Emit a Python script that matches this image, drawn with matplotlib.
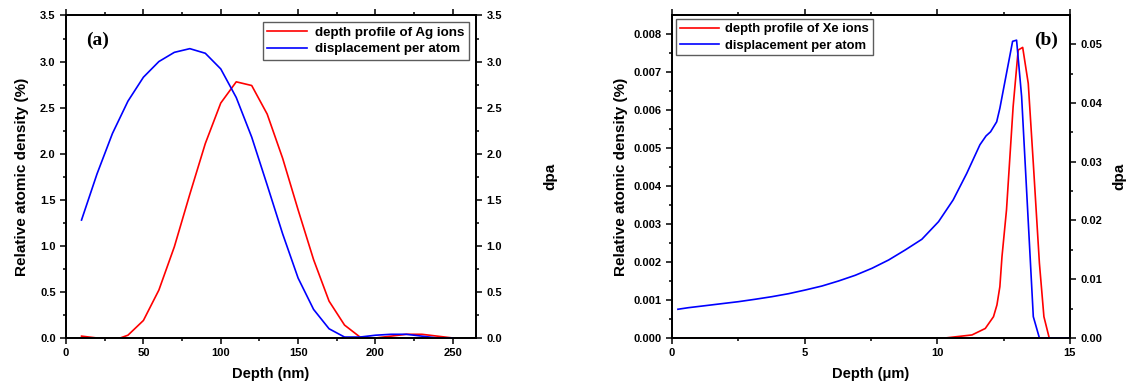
import matplotlib
matplotlib.use("Agg")
import matplotlib.pyplot as plt
from matplotlib.ticker import MultipleLocator

plt.rcParams['font.family'] = ['Liberation Sans', 'DejaVu Sans']
plt.rcParams['font.weight'] = 'bold'

# panel (a): Ag ions, depth in nm
depth_a = [10, 20, 30, 35, 40, 50, 60, 70, 80, 90, 100, 110, 120, 130, 140,
           150, 160, 170, 180, 190, 200, 210, 220, 230, 240, 250]
ag_profile = [0.02, 0.0, 0.0, 0.0, 0.03, 0.19, 0.52, 0.99, 1.56, 2.11, 2.55, 2.78, 2.74,
              2.43, 1.95, 1.39, 0.85, 0.40, 0.14, 0.01, 0.0, 0.02, 0.04, 0.04, 0.02, 0.0]
depth_a_dpa = [10, 20, 30, 40, 50, 60, 70, 80, 90, 100, 110, 120, 130, 140, 150,
               160, 170, 180, 190, 200, 210, 220, 230, 240, 250]
ag_dpa = [1.28, 1.78, 2.22, 2.57, 2.83, 3.00, 3.10, 3.14, 3.09, 2.92, 2.61, 2.18, 1.66,
          1.13, 0.65, 0.31, 0.10, 0.01, 0.01, 0.03, 0.04, 0.04, 0.02, 0.0, 0.0]

# panel (b): Xe ions, depth in um
depth_b_prof = [0.0, 2, 4, 6, 8, 10.3, 11.31, 11.81, 12.12, 12.25, 12.36, 12.44, 12.61,
                12.86, 13.05, 13.22, 13.43, 13.62, 13.85, 14.02, 14.22, 15.0]
xe_profile = [0.0, 0.0, 0.0, 0.0, 0.0, 0.0, 0.00008, 0.00025, 0.00056, 0.00087, 0.00135,
              0.00214, 0.00337, 0.00609, 0.00758, 0.00765, 0.0067, 0.0046, 0.00197,
              0.00056, 0.0, 0.0]
depth_b_dpa = [0.23, 0.63, 1.26, 1.88, 2.51, 3.14, 3.77, 4.4, 5.03, 5.66, 6.28, 6.91, 7.54,
               8.17, 8.8, 9.42, 10.05, 10.6, 11.11, 11.61, 11.84, 12.01, 12.24, 12.36,
               12.49, 12.84, 12.99, 13.18, 13.62, 13.85, 15.0]
xe_dpa = [0.00489, 0.00516, 0.0055, 0.00584, 0.00618, 0.00659, 0.00703, 0.00754, 0.00817,
          0.00885, 0.0097, 0.01067, 0.01186, 0.01328, 0.0150, 0.0168, 0.0198, 0.0235,
          0.0280, 0.0329, 0.0344, 0.0351, 0.0368, 0.0391, 0.0422, 0.0505, 0.0507, 0.0411,
          0.00363, 0.0, 0.0]

fig = plt.figure(figsize=(11.31, 3.92), dpi=100)


def style(ax, ax2):
    for a in (ax, ax2):
        for s in a.spines.values():
            s.set_linewidth(1.3)
        a.tick_params(which='both', labelsize=8, width=1.1)
        a.tick_params(which='major', length=4)
        a.tick_params(which='minor', length=2.5)
    ax.tick_params(axis='x', which='both', top=True, direction='out')
    ax.tick_params(axis='y', which='both', direction='out')
    ax2.tick_params(axis='y', which='both', direction='out')


# ---- (a)
ax = fig.add_axes([0.0584, 0.1378, 0.3625, 0.8227])
ax2 = ax.twinx()
l1, = ax.plot(depth_a, ag_profile, color='red', lw=1.2, label='depth profile of Ag ions')
l2, = ax2.plot(depth_a_dpa, ag_dpa, color='blue', lw=1.2, label='displacement per atom')
ax.set_xlim(0, 265)
ax.set_ylim(0, 3.5)
ax2.set_ylim(0, 3.5)
ax.xaxis.set_major_locator(MultipleLocator(50))
ax.xaxis.set_minor_locator(MultipleLocator(25))
for a in (ax, ax2):
    a.yaxis.set_major_locator(MultipleLocator(0.5))
    a.yaxis.set_minor_locator(MultipleLocator(0.25))
style(ax, ax2)
ax.set_xlabel('Depth (nm)', fontsize=10.5, fontweight='bold', labelpad=6)
ax.set_ylabel('Relative atomic density (%)', fontsize=11, fontweight='bold', labelpad=8)
ax2.set_ylabel('dpa', fontsize=11, fontweight='bold', labelpad=30)
leg = ax.legend(handles=[l1, l2], loc='upper right', fontsize=9.6, fancybox=False,
                edgecolor='#333333', borderpad=0.35, handlelength=3, labelspacing=0.3,
                borderaxespad=0.5, handletextpad=0.6)
leg.get_frame().set_linewidth(1.0)
ax.text(0.05, 0.95, '(a)', transform=ax.transAxes, family='Liberation Serif',
        fontsize=14, fontweight='bold', va='top')

# ---- (b)
bx = fig.add_axes([0.594, 0.1378, 0.352, 0.8227])
bx2 = bx.twinx()
m1, = bx.plot(depth_b_prof, xe_profile, color='red', lw=1.2, label='depth profile of Xe ions')
m2, = bx2.plot(depth_b_dpa, xe_dpa, color='blue', lw=1.2, label='displacement per atom')
bx.set_xlim(0, 15)
bx.set_ylim(0, 0.00849)
bx2.set_ylim(0, 0.0549)
bx.xaxis.set_major_locator(MultipleLocator(5))
bx.xaxis.set_minor_locator(MultipleLocator(2.5))
bx.yaxis.set_major_locator(MultipleLocator(0.001))
bx.yaxis.set_minor_locator(MultipleLocator(0.0005))
bx.yaxis.set_major_formatter(plt.FormatStrFormatter('%.3f'))
bx2.yaxis.set_major_locator(MultipleLocator(0.01))
bx2.yaxis.set_minor_locator(MultipleLocator(0.005))
bx2.yaxis.set_major_formatter(plt.FormatStrFormatter('%.2f'))
style(bx, bx2)
bx.set_xlabel('Depth (μm)', fontsize=10.5, fontweight='bold', labelpad=6)
bx.set_ylabel('Relative atomic density (%)', fontsize=11, fontweight='bold')
bx2.set_ylabel('dpa', fontsize=11, fontweight='bold', labelpad=7)
leg = bx.legend(handles=[m1, m2], loc='upper left', fontsize=9.4, fancybox=False,
                edgecolor='#333333', borderpad=0.3, handlelength=3, labelspacing=0.3,
                borderaxespad=0.3, handletextpad=0.5)
leg.get_frame().set_linewidth(1.0)
bx.text(0.97, 0.95, '(b)', transform=bx.transAxes, family='Liberation Serif',
        fontsize=14, fontweight='bold', va='top', ha='right')

fig.savefig('out.png', dpi=100)
